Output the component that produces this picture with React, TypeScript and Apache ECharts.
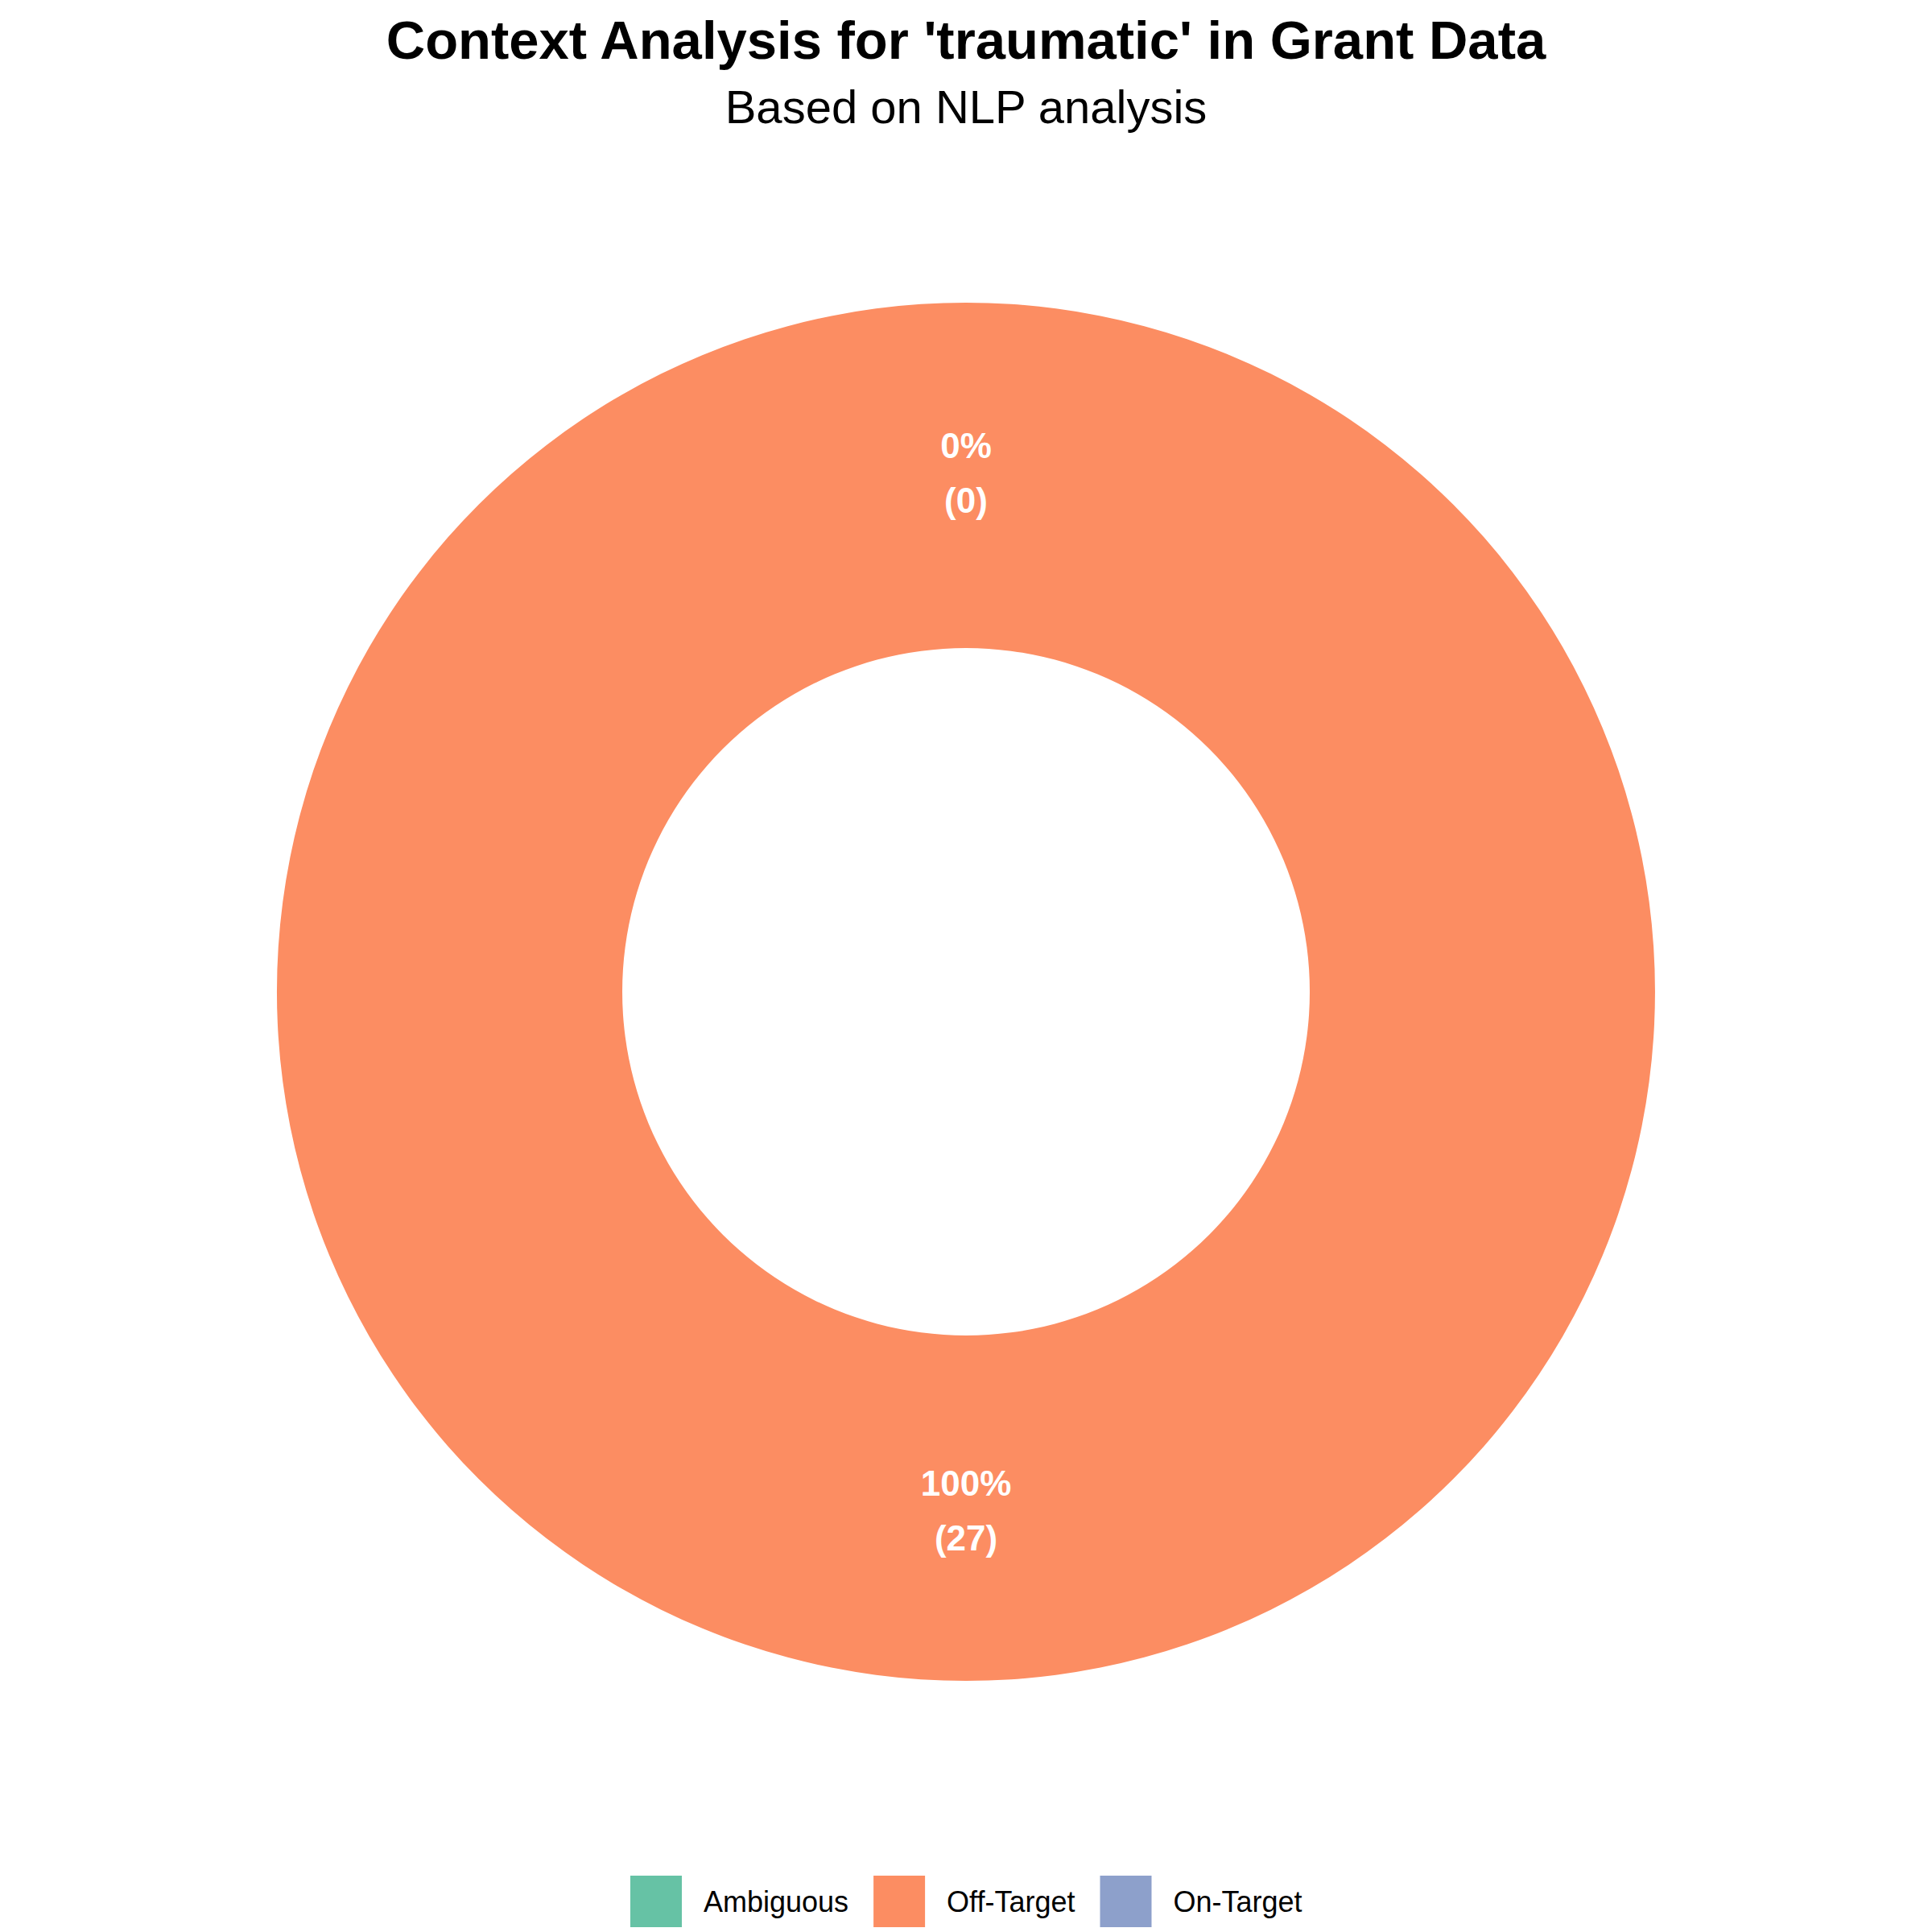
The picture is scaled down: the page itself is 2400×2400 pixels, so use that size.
import React, { useEffect, useRef } from "react";
import * as echarts from "echarts";

const categories = ["Ambiguous", "Off-Target", "On-Target"];
const counts = [0, 27, 0];
const colors = ["#66C2A5", "#FC8D62", "#8DA0CB"];
const titleText = "Context Analysis for 'traumatic' in Grant Data";
const subtitleText = "Based on NLP analysis";

export default function App() {
  const ref = useRef<HTMLDivElement>(null);
  useEffect(() => {
    if (!ref.current) return;
    const chart = echarts.init(ref.current, null, { renderer: "svg" });
    const total = counts.reduce((a, b) => a + b, 0);
    chart.setOption({
      animation: false,
      backgroundColor: "#ffffff",
      color: colors,
      title: [
        {
          text: titleText,
          left: "center",
          top: 11,
          textStyle: { fontFamily: "Liberation Sans", fontWeight: "bold", fontSize: 67, color: "#000" },
        },
        {
          text: subtitleText,
          left: "center",
          top: 98,
          textStyle: { fontFamily: "Liberation Sans", fontWeight: "normal", fontSize: 58, color: "#000" },
        },
      ],
      legend: {
        orient: "horizontal",
        left: 778,
        top: 2325,
        itemWidth: 64,
        itemHeight: 64,
        itemGap: 31,
        icon: "rect",
        data: categories,
        textStyle: {
          fontFamily: "Liberation Sans",
          fontSize: 36,
          color: "#000",
          padding: [0, 0, 0, 22],
        },
      },
      series: [
        {
          type: "pie",
          center: [1200, 1232],
          radius: [427, 856],
          startAngle: 90,
          clockwise: true,
          avoidLabelOverlap: false,
          itemStyle: { borderWidth: 0 },
          label: {
            show: true,
            position: "inside",
            color: "#fff",
            fontFamily: "Liberation Sans",
            fontWeight: "bold",
            fontSize: 44,
            lineHeight: 68,
            formatter: (p: any) => {
              const pct = total > 0 ? Math.round((p.value / total) * 100) : 0;
              return `${pct}%\n(${p.value})`;
            },
          },
          labelLine: { show: false },
          emphasis: { disabled: true },
          data: categories.map((c, i) => ({ name: c, value: counts[i] })),
        },
      ],
    });
    return () => chart.dispose();
  }, []);
  return (
    <div
      ref={ref}
      style={{ position: "fixed", left: 0, top: 0, width: 2400, height: 2400 }}
    />
  );
}
